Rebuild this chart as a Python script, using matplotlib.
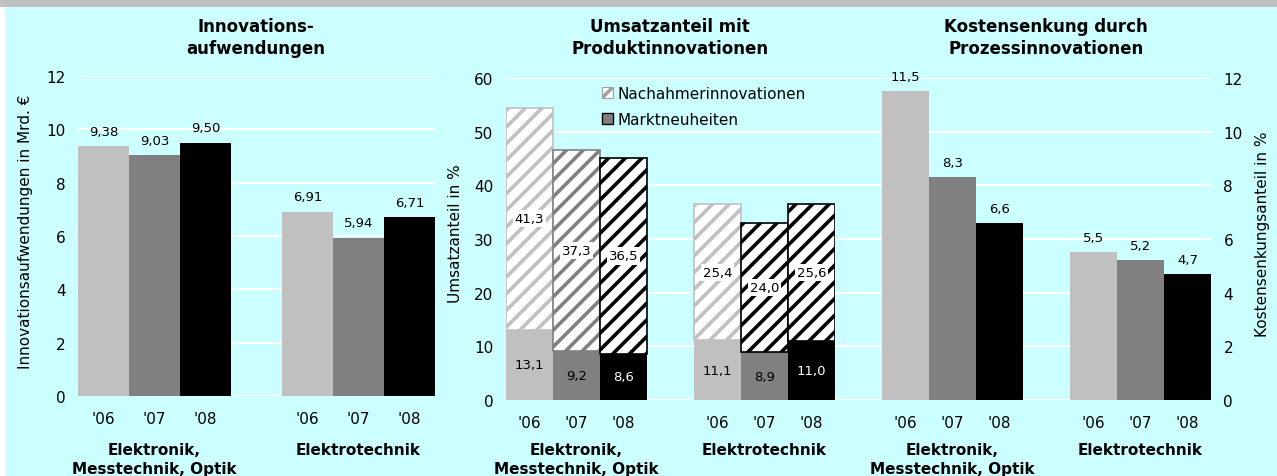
import matplotlib
matplotlib.use("Agg")
import matplotlib.pyplot as plt
from matplotlib.patches import Patch, Rectangle

# Daten
years = ["'06", "'07", "'08", "'06", "'07", "'08"]
groups = ["Elektronik,\nMesstechnik, Optik", "Elektrotechnik"]
aufwendungen = [9.38, 9.03, 9.50, 6.91, 5.94, 6.71]
marktneuheiten = [13.1, 9.2, 8.6, 11.1, 8.9, 11.0]
nachahmer = [41.3, 37.3, 36.5, 25.4, 24.0, 25.6]
kostensenkung = [11.5, 8.3, 6.6, 5.5, 5.2, 4.7]

bar_colors = ['#c0c0c0', '#808080', '#000000', '#c0c0c0', '#808080', '#000000']
hatch_colors = ['#c0c0c0', '#808080', '#000000', '#c0c0c0', '#000000', '#000000']
pos = [0.5, 1.5, 2.5, 4.5, 5.5, 6.5]
bg = '#ccffff'

plt.rcParams['font.family'] = ['DejaVu Sans']
plt.rcParams['hatch.linewidth'] = 2.6

W, H = 1277, 477
fig = plt.figure(figsize=(W / 100, H / 100), dpi=100, facecolor=bg)

# Rahmen oben / links
fig.patches.append(Rectangle((0, 1 - 8 / H), 1, 8 / H, transform=fig.transFigure,
                             facecolor='#c0c0c0', edgecolor='none', zorder=0))
fig.patches.append(Rectangle((0, 0), 5 / W, 1 - 8 / H, transform=fig.transFigure,
                             facecolor='white', edgecolor='none', zorder=0))


def make_axes(x0, x1, y_top, y_zero):
    return fig.add_axes([x0 / W, (H - y_zero) / H, (x1 - x0) / W, (y_zero - y_top) / H])


def fmt(v, d):
    return f"{v:.{d}f}".replace('.', ',')


def style(ax, ymax, step, group_off, right=False):
    ax.set_facecolor(bg)
    ax.set_ylim(0, ymax)
    ax.set_yticks(range(0, ymax + 1, step))
    ax.grid(axis='y', color='white', lw=1.5)
    ax.set_axisbelow(True)
    for s in ax.spines.values():
        s.set_visible(False)
    ax.set_xticks(pos)
    ax.set_xticklabels(years)
    ax.tick_params(axis='x', length=0, pad=11, labelsize=11)
    ax.tick_params(axis='y', length=0, pad=9, labelsize=11)
    if right:
        ax.yaxis.tick_right()
    for i, g in enumerate(groups):
        ax.annotate(g, xy=(pos[3 * i + 1], 0), xycoords='data',
                    xytext=(0, group_off), textcoords='offset pixels',
                    ha='center', va='top', fontsize=11, fontweight='bold',
                    linespacing=1.3, annotation_clip=False)


# 1: Innovationsaufwendungen
ax1 = make_axes(78, 435, 77, 397)
ax1.bar(pos, aufwendungen, width=1.0, color=bar_colors)
ax1.set_xlim(0, 7)
style(ax1, 12, 2, -46)
for x, v in zip(pos, aufwendungen):
    ax1.annotate(fmt(v, 2), (x, v), xytext=(0, 6), textcoords='offset points',
                 ha='center', va='bottom', fontsize=9.5)
fig.text(26 / W, 1 - 232 / H, 'Innovationsaufwendungen in Mrd. €', rotation=90,
         ha='center', va='center', fontsize=11)
fig.text(256 / W, 1 - 38 / H, 'Innovations-\naufwendungen', ha='center', va='center',
         fontsize=12, fontweight='bold', linespacing=1.35)

# 2: Umsatzanteil mit Produktinnovationen
ax2 = make_axes(506, 835, 79, 401)
ax2.bar(pos, marktneuheiten, width=1.0, color=bar_colors)
ax2.bar(pos, nachahmer, width=1.0, bottom=marktneuheiten, color='white',
        edgecolor=hatch_colors, linewidth=1.2, hatch='//')
ax2.set_xlim(0, 7)
style(ax2, 60, 10, -42)
for x, m, n, c in zip(pos, marktneuheiten, nachahmer, bar_colors):
    ax2.text(x, m / 2, fmt(m, 1), ha='center', va='center', fontsize=9.5,
             color='white' if c == '#000000' else 'black')
    ax2.text(x, m + n / 2, fmt(n, 1), ha='center', va='center', fontsize=9.5,
             bbox=dict(facecolor='white', edgecolor='none', pad=1.5))
handles = [Patch(facecolor='white', edgecolor='#a0a0a0', hatch='//', linewidth=0.8),
           Patch(facecolor='#808080', edgecolor='black', linewidth=1)]
ax2.legend(handles, ['Nachahmerinnovationen', 'Marktneuheiten'], loc='upper left',
           bbox_to_anchor=(0.293, 0.975), frameon=False, fontsize=11,
           handlelength=0.7, handleheight=0.7, handletextpad=0.3,
           labelspacing=0.7, borderpad=0, borderaxespad=0)
fig.text(456 / W, 1 - 234 / H, 'Umsatzanteil in %', rotation=90,
         ha='center', va='center', fontsize=11)
fig.text(670 / W, 1 - 38 / H, 'Umsatzanteil mit\nProduktinnovationen', ha='center',
         va='center', fontsize=12, fontweight='bold', linespacing=1.35)

# 3: Kostensenkung durch Prozessinnovationen
ax3 = make_axes(835, 1211, 79, 401)
ax3.bar(pos, kostensenkung, width=1.0, color=bar_colors)
ax3.set_xlim(-1, 7)
style(ax3, 12, 2, -42, right=True)
for x, v in zip(pos, kostensenkung):
    ax3.annotate(fmt(v, 1), (x, v), xytext=(0, 6), textcoords='offset points',
                 ha='center', va='bottom', fontsize=9.5)
fig.text(1262 / W, 1 - 234 / H, 'Kostensenkungsanteil in %', rotation=90,
         ha='center', va='center', fontsize=11)
fig.text(1046 / W, 1 - 38 / H, 'Kostensenkung durch\nProzessinnovationen', ha='center',
         va='center', fontsize=12, fontweight='bold', linespacing=1.35)

fig.savefig('out.png', dpi=100, facecolor=bg)
